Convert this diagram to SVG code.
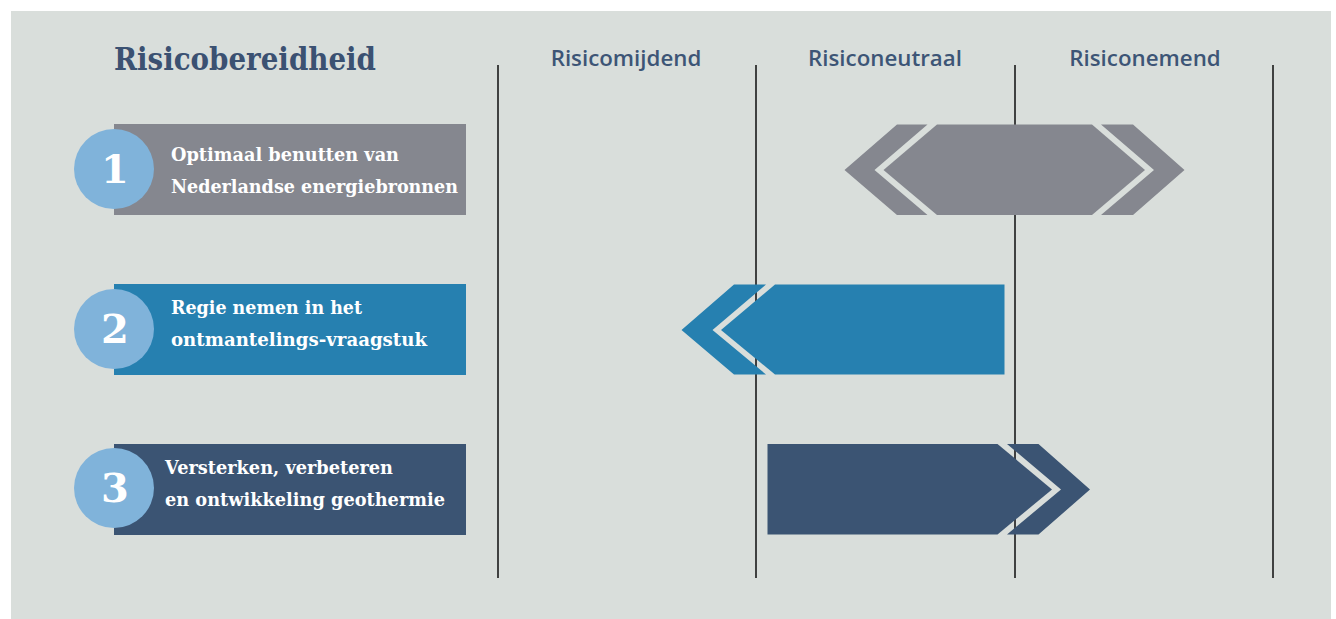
<svg xmlns="http://www.w3.org/2000/svg" width="1336" height="619" viewBox="0 0 1336 619">
<style>
.bg{fill:#d9dedb}
.vline{stroke:#1a1a1a;stroke-width:1.6}
.hdr{font-family:"Open Sans","Liberation Sans",sans-serif;font-weight:600;font-size:22.3px;fill:#3d5576;text-anchor:middle}
.title{font-family:"DejaVu Serif","Liberation Serif",serif;font-weight:bold;font-size:31px;fill:#3b5172}
.lbl{font-family:"DejaVu Serif","Liberation Serif",serif;font-weight:bold;font-size:18.5px;fill:#ffffff}
.num{font-family:"DejaVu Serif","Liberation Serif",serif;font-weight:bold;font-size:40px;fill:#ffffff;text-anchor:middle}
.circ{fill:#80b3da}
.gray{fill:#85878f}
.blue{fill:#2680b0}
.navy{fill:#3b5473}
</style>
<rect class="bg" x="11" y="11" width="1320" height="608"/>
<g id="title"><text class="title" x="114" y="70" textLength="262" lengthAdjust="spacingAndGlyphs">Risicobereidheid</text></g>
<g id="headers">
<text class="hdr" x="626" y="66">Risicomijdend</text>
<text class="hdr" x="885" y="66">Risiconeutraal</text>
<text class="hdr" x="1145" y="66">Risiconemend</text>
</g>
<g id="gridlines">
<line class="vline" x1="498" y1="65" x2="498" y2="578"/>
<line class="vline" x1="756" y1="65" x2="756" y2="578"/>
<line class="vline" x1="1015" y1="65" x2="1015" y2="578"/>
<line class="vline" x1="1273" y1="65" x2="1273" y2="578"/>
</g>
<g id="node1">
<rect class="gray" x="114" y="124" width="352" height="91"/>
<circle class="circ" cx="114" cy="169" r="40"/>
<text class="num" x="115" y="183">1</text>
<text class="lbl" x="171" y="161" textLength="228" lengthAdjust="spacingAndGlyphs">Optimaal benutten van</text>
<text class="lbl" x="171" y="193" textLength="287" lengthAdjust="spacingAndGlyphs">Nederlandse energiebronnen</text>
</g>
<g id="node2">
<rect class="blue" x="114" y="284" width="352" height="91"/>
<circle class="circ" cx="114" cy="329" r="40"/>
<text class="num" x="115" y="343">2</text>
<text class="lbl" x="171" y="314" textLength="191" lengthAdjust="spacingAndGlyphs">Regie nemen in het</text>
<text class="lbl" x="171" y="346" textLength="256" lengthAdjust="spacingAndGlyphs">ontmantelings-vraagstuk</text>
</g>
<g id="node3">
<rect class="navy" x="114" y="444" width="352" height="91"/>
<circle class="circ" cx="114" cy="488" r="40"/>
<text class="num" x="115" y="502">3</text>
<text class="lbl" x="165" y="474" textLength="228" lengthAdjust="spacingAndGlyphs">Versterken, verbeteren</text>
<text class="lbl" x="165" y="506" textLength="280" lengthAdjust="spacingAndGlyphs">en ontwikkeling geothermie</text>
</g>
<g id="connectors">
<g id="range1">
<polygon class="gray" points="897,124.5 927.5,124.5 874.5,170 927.5,215 897,215 844.5,170"/>
<polygon class="gray" points="937,124.5 1092,124.5 1145,170 1092,215 937,215 883.5,170"/>
<polygon class="gray" points="1101,124.5 1133,124.5 1184.5,170 1133,215 1101,215 1154,170"/>
</g>
<g id="range2">
<polygon class="blue" points="734,284.5 766,284.5 712.5,330 766,374.5 734,374.5 681.5,330"/>
<polygon class="blue" points="775,284.5 1004.5,284.5 1004.5,374.5 775,374.5 721,330"/>
</g>
<g id="range3">
<polygon class="navy" points="767.5,444 997.5,444 1052,489.5 997.5,534.5 767.5,534.5"/>
<polygon class="navy" points="1007,444 1038.5,444 1090,489.5 1038.5,534.5 1007,534.5 1061,489.5"/>
</g>
</g>
</svg>
